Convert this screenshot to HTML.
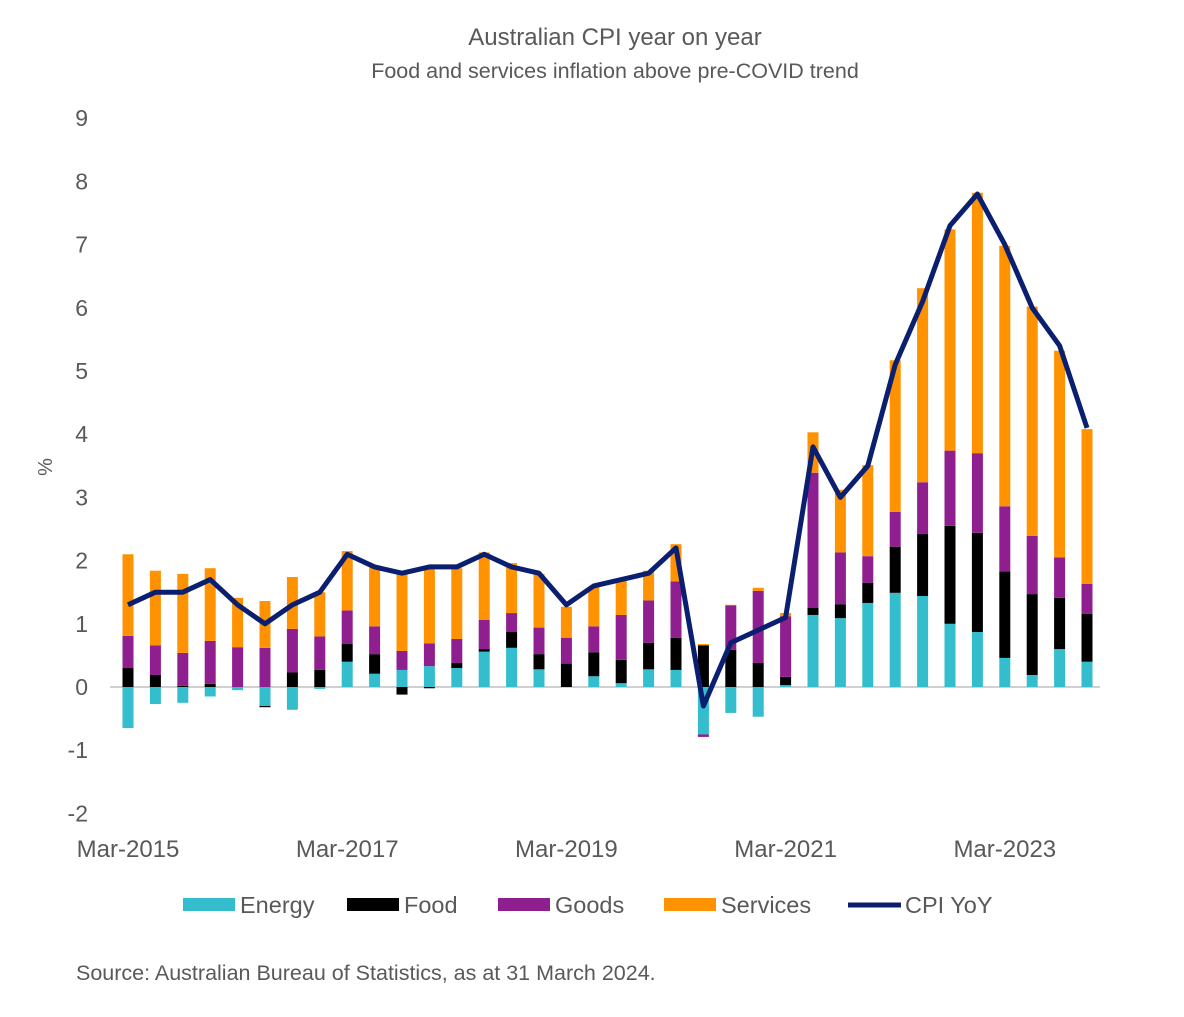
<!DOCTYPE html>
<html><head><meta charset="utf-8"><style>
body{margin:0;background:#fff;}
svg text{font-family:"Liberation Sans",sans-serif;fill:#595959;}
</style></head><body>
<svg id="chart" width="1184" height="1012" xmlns="http://www.w3.org/2000/svg">
<text x="615" y="45" font-size="24" text-anchor="middle">Australian CPI year on year</text>
<text x="615" y="78" font-size="21.5" text-anchor="middle">Food and services inflation above pre-COVID trend</text>
<text x="52" y="467" font-size="20" text-anchor="middle" transform="rotate(-90 52 467)">%</text>
<g id="yticks"></g>
<line x1="110" x2="1100" y1="687" y2="687" stroke="#d0d0d0" stroke-width="2"/>
<g id="bars"></g>
<g id="line"></g>
<g id="xticks"></g>
<g>
<rect x="183" y="898" width="52" height="13" fill="#33bdcd"/>
<text x="240" y="913" font-size="23.5">Energy</text>
<rect x="347" y="898" width="52" height="13" fill="#000"/>
<text x="404" y="913" font-size="23.5">Food</text>
<rect x="498" y="898" width="52" height="13" fill="#8f1f8f"/>
<text x="555" y="913" font-size="23.5">Goods</text>
<rect x="664" y="898" width="52" height="13" fill="#ff9200"/>
<text x="721" y="913" font-size="23.5">Services</text>
<line x1="848" x2="901" y1="905" y2="905" stroke="#0b1f70" stroke-width="5"/>
<text x="905" y="913" font-size="23.5">CPI YoY</text>
</g>
<text x="76" y="980" font-size="21.5">Source: Australian Bureau of Statistics, as at 31 March 2024.</text>
</svg>
<script>
const categories=["Mar-2015","Jun-2015","Sep-2015","Dec-2015","Mar-2016","Jun-2016","Sep-2016","Dec-2016","Mar-2017","Jun-2017","Sep-2017","Dec-2017","Mar-2018","Jun-2018","Sep-2018","Dec-2018","Mar-2019","Jun-2019","Sep-2019","Dec-2019","Mar-2020","Jun-2020","Sep-2020","Dec-2020","Mar-2021","Jun-2021","Sep-2021","Dec-2021","Mar-2022","Jun-2022","Sep-2022","Dec-2022","Mar-2023","Jun-2023","Sep-2023","Dec-2023"];
const energy=[-0.65,-0.27,-0.25,-0.15,-0.05,-0.3,-0.36,-0.03,0.4,0.21,0.27,0.33,0.3,0.56,0.62,0.28,0,0.17,0.06,0.28,0.27,-0.75,-0.41,-0.47,0.03,1.14,1.09,1.33,1.49,1.44,1.0,0.87,0.46,0.19,0.6,0.4];
const food=[0.3,0.19,0.02,0.05,0,-0.02,0.23,0.27,0.28,0.31,-0.12,-0.02,0.08,0.04,0.25,0.24,0.37,0.38,0.37,0.42,0.51,0.66,0.59,0.38,0.13,0.11,0.22,0.32,0.73,0.98,1.55,1.57,1.37,1.28,0.81,0.76];
const goods=[0.51,0.47,0.52,0.68,0.63,0.62,0.69,0.53,0.53,0.44,0.3,0.36,0.38,0.46,0.3,0.42,0.41,0.41,0.71,0.67,0.89,-0.04,0.7,1.14,0.96,2.14,0.82,0.42,0.55,0.82,1.19,1.26,1.03,0.92,0.64,0.47];
const services=[1.29,1.18,1.25,1.15,0.78,0.74,0.82,0.7,0.94,0.94,1.23,1.19,1.12,1.07,0.79,0.85,0.49,0.63,0.56,0.47,0.59,0.02,0.01,0.05,0.05,0.64,0.99,1.44,2.4,3.07,3.5,4.12,4.12,3.63,3.27,2.45];
const cpi=[1.3,1.5,1.5,1.7,1.3,1.0,1.3,1.5,2.1,1.9,1.8,1.9,1.9,2.1,1.9,1.8,1.3,1.6,1.7,1.8,2.2,-0.3,0.7,0.9,1.1,3.8,3.0,3.5,5.1,6.1,7.3,7.8,7.0,6.0,5.4,4.1];
const yTicks=[-2,-1,0,1,2,3,4,5,6,7,8,9];
const xLabelIdx=[0,8,16,24,32];
const NS="http://www.w3.org/2000/svg";
const y=v=>687-v*63.2;
const x=i=>128+i*27.4;
function mk(tag,attrs,parent){const e=document.createElementNS(NS,tag);for(const k in attrs)e.setAttribute(k,attrs[k]);parent.appendChild(e);return e;}
const yt=document.getElementById('yticks');
yTicks.forEach(t=>{const e=mk('text',{x:88,y:y(t)+8,'font-size':23,'text-anchor':'end'},yt);e.textContent=t;

});
const xt=document.getElementById('xticks');
xLabelIdx.forEach(i=>{const e=mk('text',{x:x(i),y:857,'font-size':24,'text-anchor':'middle'},xt);e.textContent=categories[i];

});
const bg=document.getElementById('bars');
const series=[["energy",energy,"#33bdcd"],["food",food,"#000000"],["goods",goods,"#8f1f8f"],["services",services,"#ff9200"]];
categories.forEach((c,i)=>{let pos=0,neg=0;
series.forEach(([n,arr,col])=>{const v=arr[i];let a,b;
if(v>=0){a=pos;b=pos+v;pos=b;}else{a=neg;b=neg+v;neg=b;}
const r=mk('rect',{x:x(i)-5.5,width:11,y:Math.min(y(a),y(b)),height:Math.abs(y(a)-y(b)),fill:col},bg);

});});
const lg=document.getElementById('line');
const p=mk('polyline',{points:cpi.map((v,i)=>x(i)+','+y(v)).join(' '),fill:'none',stroke:'#0b1f70','stroke-width':5,'stroke-linejoin':'round'},lg);


</script>
</body></html>
